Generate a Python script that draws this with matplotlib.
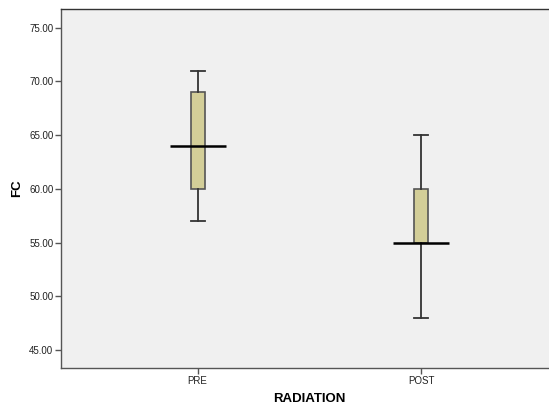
import numpy as np
import matplotlib.pyplot as plt

plt.rcParams['font.family'] = ['Liberation Sans', 'DejaVu Sans']

groups = ["PRE", "POST"]
whisker_lo = [57, 48]
q1 = [60, 55]
median = [64, 55]
q3 = [69, 60]
whisker_hi = [71, 65]
yticks = [45, 50, 55, 60, 65, 70, 75]

fig = plt.figure(figsize=(5.49, 4.07), dpi=100)
ax = fig.add_axes([61/549, 1 - 368/407, 496.7/549, 359/407])
ax.set_facecolor("#f0f0f0")

pos = np.arange(1, len(groups) + 1)
stats = []
for i, g in enumerate(groups):
    stats.append(dict(label=g, whislo=whisker_lo[i], q1=q1[i], med=median[i],
                      q3=q3[i], whishi=whisker_hi[i], fliers=[]))

ax.bxp(stats, positions=pos, widths=0.063, capwidths=0.063, patch_artist=True,
       showfliers=False,
       boxprops=dict(facecolor="#d3ce98", edgecolor="#555555", linewidth=1.2),
       whiskerprops=dict(color="#333333", linewidth=1.3),
       capprops=dict(color="#333333", linewidth=1.3),
       medianprops=dict(linewidth=0))
ax.hlines(median, pos - 0.125, pos + 0.125, color="black", linewidth=1.8, zorder=5)

ax.set_xlim(0.388, 2.612)
ax.set_ylim(43.32, 76.74)
ax.set_yticks(yticks)
ax.set_yticklabels(["%.2f" % v for v in yticks])
ax.set_xticks(pos)
ax.set_xticklabels(groups)
ax.tick_params(axis="both", direction="out", length=4, width=1, colors="#555555",
               labelsize=7, labelcolor="#222222", pad=1.5)

for s in ax.spines.values():
    s.set_color("#555555")
    s.set_linewidth(1)
ax.spines["right"].set_visible(False)
ax.spines["top"].set_color("#333333")

ax.set_xlabel("RADIATION", fontsize=9.5, fontweight="bold", labelpad=5)
ax.set_ylabel("FC", fontsize=9.5, fontweight="bold", labelpad=4)

plt.savefig("out.png", dpi=100)
